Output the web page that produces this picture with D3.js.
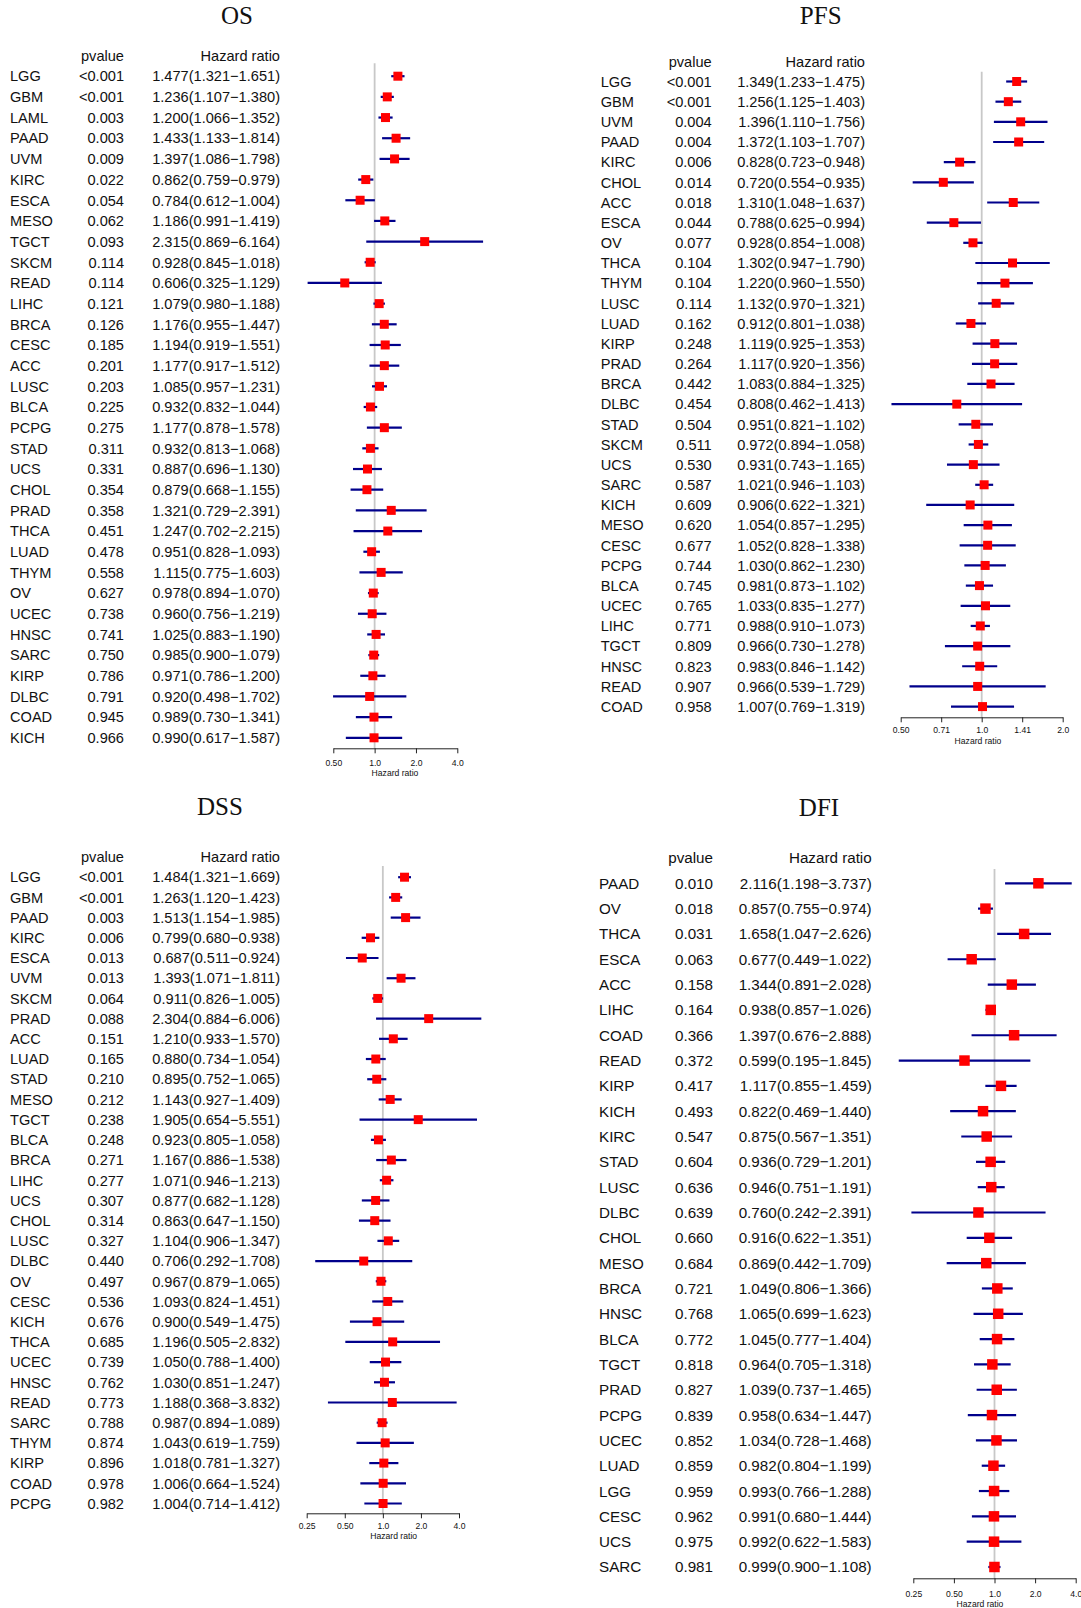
<!DOCTYPE html>
<html>
<head>
<meta charset="utf-8">
<script src="https://cdn.jsdelivr.net/npm/d3@7"></script>
<style>
html,body{margin:0;padding:0;background:#fff;}
svg{display:block;}
</style>
</head>
<body>
<svg id="chart" width="1081" height="1608"></svg>
<script>
// ---------------- DATA ----------------
const osCancer = ["LGG","GBM","LAML","PAAD","UVM","KIRC","ESCA","MESO","TGCT","SKCM","READ","LIHC","BRCA","CESC","ACC","LUSC","BLCA","PCPG","STAD","UCS","CHOL","PRAD","THCA","LUAD","THYM","OV","UCEC","HNSC","SARC","KIRP","DLBC","COAD","KICH"];
const osPvalue = ["<0.001","<0.001","0.003","0.003","0.009","0.022","0.054","0.062","0.093","0.114","0.114","0.121","0.126","0.185","0.201","0.203","0.225","0.275","0.311","0.331","0.354","0.358","0.451","0.478","0.558","0.627","0.738","0.741","0.750","0.786","0.791","0.945","0.966"];
const osHR   = [1.477,1.236,1.200,1.433,1.397,0.862,0.784,1.186,2.315,0.928,0.606,1.079,1.176,1.194,1.177,1.085,0.932,1.177,0.932,0.887,0.879,1.321,1.247,0.951,1.115,0.978,0.960,1.025,0.985,0.971,0.920,0.989,0.990];
const osLow  = [1.321,1.107,1.066,1.133,1.086,0.759,0.612,0.991,0.869,0.845,0.325,0.980,0.955,0.919,0.917,0.957,0.832,0.878,0.813,0.696,0.668,0.729,0.702,0.828,0.775,0.894,0.756,0.883,0.900,0.786,0.498,0.730,0.617];
const osHigh = [1.651,1.380,1.352,1.814,1.798,0.979,1.004,1.419,6.164,1.018,1.129,1.188,1.447,1.551,1.512,1.231,1.044,1.578,1.068,1.130,1.155,2.391,2.215,1.093,1.603,1.070,1.219,1.190,1.079,1.200,1.702,1.341,1.587];

const pfsCancer = ["LGG","GBM","UVM","PAAD","KIRC","CHOL","ACC","ESCA","OV","THCA","THYM","LUSC","LUAD","KIRP","PRAD","BRCA","DLBC","STAD","SKCM","UCS","SARC","KICH","MESO","CESC","PCPG","BLCA","UCEC","LIHC","TGCT","HNSC","READ","COAD"];
const pfsPvalue = ["<0.001","<0.001","0.004","0.004","0.006","0.014","0.018","0.044","0.077","0.104","0.104","0.114","0.162","0.248","0.264","0.442","0.454","0.504","0.511","0.530","0.587","0.609","0.620","0.677","0.744","0.745","0.765","0.771","0.809","0.823","0.907","0.958"];
const pfsHR   = [1.349,1.256,1.396,1.372,0.828,0.720,1.310,0.788,0.928,1.302,1.220,1.132,0.912,1.119,1.117,1.083,0.808,0.951,0.972,0.931,1.021,0.906,1.054,1.052,1.030,0.981,1.033,0.988,0.966,0.983,0.966,1.007];
const pfsLow  = [1.233,1.125,1.110,1.103,0.723,0.554,1.048,0.625,0.854,0.947,0.960,0.970,0.801,0.925,0.920,0.884,0.462,0.821,0.894,0.743,0.946,0.622,0.857,0.828,0.862,0.873,0.835,0.910,0.730,0.846,0.539,0.769];
const pfsHigh = [1.475,1.403,1.756,1.707,0.948,0.935,1.637,0.994,1.008,1.790,1.550,1.321,1.038,1.353,1.356,1.325,1.413,1.102,1.058,1.165,1.103,1.321,1.295,1.338,1.230,1.102,1.277,1.073,1.278,1.142,1.729,1.319];

const dssCancer = ["LGG","GBM","PAAD","KIRC","ESCA","UVM","SKCM","PRAD","ACC","LUAD","STAD","MESO","TGCT","BLCA","BRCA","LIHC","UCS","CHOL","LUSC","DLBC","OV","CESC","KICH","THCA","UCEC","HNSC","READ","SARC","THYM","KIRP","COAD","PCPG"];
const dssPvalue = ["<0.001","<0.001","0.003","0.006","0.013","0.013","0.064","0.088","0.151","0.165","0.210","0.212","0.238","0.248","0.271","0.277","0.307","0.314","0.327","0.440","0.497","0.536","0.676","0.685","0.739","0.762","0.773","0.788","0.874","0.896","0.978","0.982"];
const dssHR   = [1.484,1.263,1.513,0.799,0.687,1.393,0.911,2.304,1.210,0.880,0.895,1.143,1.905,0.923,1.167,1.071,0.877,0.863,1.104,0.706,0.967,1.093,0.900,1.196,1.050,1.030,1.188,0.987,1.043,1.018,1.006,1.004];
const dssLow  = [1.321,1.120,1.154,0.680,0.511,1.071,0.826,0.884,0.933,0.734,0.752,0.927,0.654,0.805,0.886,0.946,0.682,0.647,0.906,0.292,0.879,0.824,0.549,0.505,0.788,0.851,0.368,0.894,0.619,0.781,0.664,0.714];
const dssHigh = [1.669,1.423,1.985,0.938,0.924,1.811,1.005,6.006,1.570,1.054,1.065,1.409,5.551,1.058,1.538,1.213,1.128,1.150,1.347,1.708,1.065,1.451,1.475,2.832,1.400,1.247,3.832,1.089,1.759,1.327,1.524,1.412];

const dfiCancer = ["PAAD","OV","THCA","ESCA","ACC","LIHC","COAD","READ","KIRP","KICH","KIRC","STAD","LUSC","DLBC","CHOL","MESO","BRCA","HNSC","BLCA","TGCT","PRAD","PCPG","UCEC","LUAD","LGG","CESC","UCS","SARC"];
const dfiPvalue = ["0.010","0.018","0.031","0.063","0.158","0.164","0.366","0.372","0.417","0.493","0.547","0.604","0.636","0.639","0.660","0.684","0.721","0.768","0.772","0.818","0.827","0.839","0.852","0.859","0.959","0.962","0.975","0.981"];
const dfiHR   = [2.116,0.857,1.658,0.677,1.344,0.938,1.397,0.599,1.117,0.822,0.875,0.936,0.946,0.760,0.916,0.869,1.049,1.065,1.045,0.964,1.039,0.958,1.034,0.982,0.993,0.991,0.992,0.999];
const dfiLow  = [1.198,0.755,1.047,0.449,0.891,0.857,0.676,0.195,0.855,0.469,0.567,0.729,0.751,0.242,0.622,0.442,0.806,0.699,0.777,0.705,0.737,0.634,0.728,0.804,0.766,0.680,0.622,0.900];
const dfiHigh = [3.737,0.974,2.626,1.022,2.028,1.026,2.888,1.845,1.459,1.440,1.351,1.201,1.191,2.391,1.351,1.709,1.366,1.623,1.404,1.318,1.465,1.447,1.468,1.199,1.288,1.444,1.583,1.108];

const osTicks  = [0.5, 1, 2, 4];              const osTickLabels  = ["0.50","1.0","2.0","4.0"];
const pfsTicks = [0.5, 0.7071, 1, 1.4142, 2];  const pfsTickLabels = ["0.50","0.71","1.0","1.41","2.0"];
const dssTicks = [0.25, 0.5, 1, 2, 4];        const dssTickLabels = ["0.25","0.50","1.0","2.0","4.0"];
const dfiTicks = [0.25, 0.5, 1, 2, 4];        const dfiTickLabels = ["0.25","0.50","1.0","2.0","4.0"];

const titles = ["OS","PFS","DSS","DFI"];

// ---------------- LAYOUT ----------------
const panels = [
  {title:titles[0], cancer:osCancer, p:osPvalue, hr:osHR, lo:osLow, hi:osHigh, ticks:osTicks, tickLabels:osTickLabels,
   titleX:237, titleY:24, labelX:10, pRight:124, hrRight:280, firstY:76.2, lastY:737.8, font:14.6,
   xr:[333.3,457.3], axisY:748.3, tickLabY:766, xlabX:395, xlabY:775.5, refTop:63.3, box:9},
  {title:titles[1], cancer:pfsCancer, p:pfsPvalue, hr:pfsHR, lo:pfsLow, hi:pfsHigh, ticks:pfsTicks, tickLabels:pfsTickLabels,
   titleX:820.7, titleY:24, labelX:600.7, pRight:711.7, hrRight:865, firstY:81.5, lastY:706.6, font:14.6,
   xr:[900.7,1062.7], axisY:717.3, tickLabY:733.3, xlabX:978, xlabY:743.5, refTop:71.7, box:9},
  {title:titles[2], cancer:dssCancer, p:dssPvalue, hr:dssHR, lo:dssLow, hi:dssHigh, ticks:dssTicks, tickLabels:dssTickLabels,
   titleX:220, titleY:815, labelX:10, pRight:124, hrRight:280, firstY:877.2, lastY:1503.5, font:14.6,
   xr:[306.7,459], axisY:1513.3, tickLabY:1529, xlabX:393.7, xlabY:1538.5, refTop:866, box:9},
  {title:titles[3], cancer:dfiCancer, p:dfiPvalue, hr:dfiHR, lo:dfiLow, hi:dfiHigh, ticks:dfiTicks, tickLabels:dfiTickLabels,
   titleX:819, titleY:816, labelX:599, pRight:713, hrRight:871.7, firstY:883.3, lastY:1567, font:15.2,
   xr:[913.3,1075.7], axisY:1578.3, tickLabY:1596.7, xlabX:980, xlabY:1606.5, refTop:869, box:10.5}
];

const svg = d3.select("#chart");
const sans = "'Liberation Sans', Arial, Helvetica, sans-serif";
const serif = "'Liberation Serif', 'Times New Roman', serif";

panels.forEach(P => {
  const g = svg.append("g");
  const n = P.cancer.length;
  const x = d3.scaleLog().base(2).domain([P.ticks[0], P.ticks[P.ticks.length-1]]).range(P.xr);
  const y = d3.scaleLinear().domain([0, n-1]).range([P.firstY, P.lastY]);
  const bOff = 0.36*P.font;
  const fmt = d3.format(".3f");

  // title
  g.append("text").attr("x",P.titleX).attr("y",P.titleY).attr("text-anchor","middle")
    .attr("font-family",serif).attr("font-size",25).attr("fill","#111").text(P.title);

  // headers
  const hy = y(-1) + bOff;
  g.append("text").attr("x",P.pRight).attr("y",hy).attr("text-anchor","end")
    .attr("font-family",sans).attr("font-size",P.font).attr("fill","#111").text("pvalue");
  g.append("text").attr("x",P.hrRight).attr("y",hy).attr("text-anchor","end")
    .attr("font-family",sans).attr("font-size",P.font).attr("fill","#111").text("Hazard ratio");

  const idx = d3.range(n);
  g.selectAll(".lab").data(idx).join("text")
    .attr("x",P.labelX).attr("y",i=>y(i)+bOff)
    .attr("font-family",sans).attr("font-size",P.font).attr("fill","#111")
    .text(i=>P.cancer[i]);
  g.selectAll(".pv").data(idx).join("text")
    .attr("x",P.pRight).attr("y",i=>y(i)+bOff).attr("text-anchor","end")
    .attr("font-family",sans).attr("font-size",P.font).attr("fill","#111")
    .text(i=>P.p[i]);
  g.selectAll(".hrt").data(idx).join("text")
    .attr("x",P.hrRight).attr("y",i=>y(i)+bOff).attr("text-anchor","end")
    .attr("font-family",sans).attr("font-size",P.font).attr("fill","#111")
    .text(i=>fmt(P.hr[i])+"("+fmt(P.lo[i])+"\u2212"+fmt(P.hi[i])+")");

  // reference line
  g.append("line").attr("x1",x(1)).attr("x2",x(1)).attr("y1",P.refTop).attr("y2",P.axisY)
    .attr("stroke","#c8c8c8").attr("stroke-width",1.8);

  // CI lines
  g.selectAll(".ci").data(idx).join("line")
    .attr("x1",i=>x(P.lo[i])).attr("x2",i=>x(P.hi[i]))
    .attr("y1",i=>y(i)).attr("y2",i=>y(i))
    .attr("stroke","#00008b").attr("stroke-width",2.2);

  // markers
  g.selectAll(".mk").data(idx).join("rect")
    .attr("x",i=>x(P.hr[i])-P.box/2).attr("y",i=>y(i)-P.box/2)
    .attr("width",P.box).attr("height",P.box).attr("fill","#ff0000");

  // axis
  const ax = d3.axisBottom(x).tickValues(P.ticks).tickFormat((d,i)=>P.tickLabels[i])
    .tickSize(5).tickSizeOuter(0);
  const ag = g.append("g").attr("transform",`translate(0,${P.axisY})`).call(ax);
  ag.select(".domain").attr("stroke","#222").attr("stroke-width",1);
  ag.selectAll(".tick line").attr("stroke","#222").attr("stroke-width",1);
  ag.selectAll(".tick text").attr("y",P.tickLabY-P.axisY).attr("dy",0)
    .attr("font-family",sans).attr("font-size",8.6).attr("fill","#111");
  g.append("text").attr("x",P.xlabX).attr("y",P.xlabY).attr("text-anchor","middle")
    .attr("font-family",sans).attr("font-size",8.6).attr("fill","#111").text("Hazard ratio");
});
</script>
</body>
</html>
